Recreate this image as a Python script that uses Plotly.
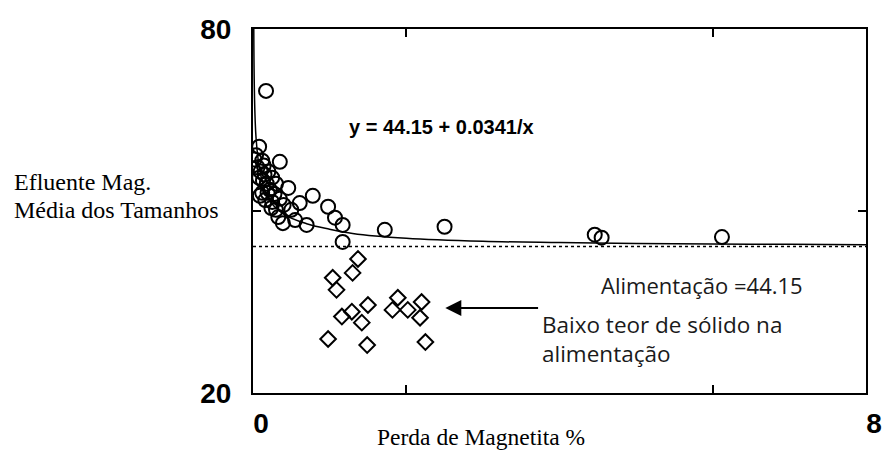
import plotly.graph_objects as go

# Data
circle_x = [0.17, 0.08, 0.04, 0.02, 0.12, 0.35, 0.06, 0.10, 0.15, 0.20, 0.08, 0.13, 0.18, 0.25,
            0.30, 0.46, 0.22, 0.12, 0.28, 0.78, 0.16, 0.35, 0.61, 0.25, 0.40, 0.98, 0.30, 0.50,
            1.07, 0.39, 0.55, 0.70, 1.17, 1.17, 1.72, 2.50, 4.46, 4.55, 6.12,
            0.14, 0.19, 0.24, 0.09, 0.33]
circle_y = [69.8, 60.6, 59.2, 58.5, 58.3, 58.1, 57.2, 56.5, 56.0, 56.5, 55.5, 55.0, 54.5, 55.5,
            54.5, 53.8, 53.5, 53.0, 52.8, 52.5, 51.8, 52.0, 51.3, 51.5, 51.0, 50.7, 50.2, 50.2,
            48.9, 48.0, 48.5, 47.7, 47.7, 44.9, 46.9, 47.4, 46.1, 45.6, 45.7,
            57.5, 53.0, 50.5, 52.5, 49.0]

diamond_x = [1.37, 1.30, 1.04, 1.09, 1.16, 1.29, 1.50, 1.42, 0.98, 1.49, 1.89, 1.82, 2.02, 2.20, 2.18, 2.25]
diamond_y = [42.1, 39.8, 39.0, 37.0, 32.6, 33.4, 34.5, 31.6, 28.9, 27.9, 35.7, 33.7, 33.7, 35.0, 32.4, 28.4]

curve_x = [0.01, 0.04, 0.10, 0.20, 0.40, 0.70, 1.0, 1.3, 2.0, 3.0, 4.0, 5.0, 6.0, 7.0, 8.0]
curve_y = [80.0, 62.0, 56.0, 52.0, 49.5, 47.9, 47.0, 46.3, 45.5, 45.0, 44.8, 44.65, 44.55, 44.5, 44.45]

feed_x = [0, 8]
feed_y = [44.15, 44.15]

x_tickvals = [0, 2, 6, 8]
x_ticktext = ["0", "", "", "8"]
y_tickvals = [20, 50, 80]
y_ticktext = ["20", "", "80"]

equation_text = "y = 44.15 + 0.0341/x"
feed_text = "Alimentação =44.15"
low_solids_text = ["Baixo teor de sólido na", "alimentação"]
y_title = ["Efluente Mag.", "Média dos Tamanhos"]
x_title = "Perda de Magnetita %"

fig = go.Figure()
fig.add_trace(go.Scatter(x=feed_x, y=feed_y, mode="lines",
                         line=dict(color="black", width=1.5, dash="dot"), showlegend=False))
fig.add_trace(go.Scatter(x=curve_x, y=curve_y, mode="lines", line_shape="spline",
                         line=dict(color="black", width=1.5), showlegend=False))
fig.add_trace(go.Scatter(x=circle_x, y=circle_y, mode="markers",
                         marker=dict(symbol="circle-open", size=14, color="black", line=dict(width=2)),
                         showlegend=False))
fig.add_trace(go.Scatter(x=diamond_x, y=diamond_y, mode="markers",
                         marker=dict(symbol="diamond-open", size=12, color="black", line=dict(width=2)),
                         showlegend=False))

fig.add_annotation(x=2.46, y=63.9, text=equation_text, showarrow=False,
                   font=dict(family="Liberation Sans, Arial", size=20, color="black", weight="bold"))
fig.add_annotation(x=4.52, y=37.8, text=feed_text, showarrow=False, xanchor="left",
                   font=dict(family="Open Sans", size=22, color="#1a1a1a"))
fig.add_annotation(x=3.75, y=28.9, text="<br>".join(low_solids_text), showarrow=False,
                   xanchor="left", align="left",
                   font=dict(family="Open Sans", size=22.5, color="#1a1a1a"))
fig.add_annotation(x=2.51, y=34.0, ax=3.74, ay=34.0, axref="x", ayref="y", text="",
                   showarrow=True, arrowhead=2, arrowsize=1.6, arrowwidth=2, arrowcolor="black")

fig.add_annotation(xref="paper", yref="paper", x=-0.3925, y=0.58, text=y_title[0], showarrow=False,
                   xanchor="left", yanchor="middle",
                   font=dict(family="Liberation Serif, Times New Roman", size=24, color="black"))
fig.add_annotation(xref="paper", yref="paper", x=-0.3925, y=0.503, text=y_title[1], showarrow=False,
                   xanchor="left", yanchor="middle",
                   font=dict(family="Liberation Serif, Times New Roman", size=24, color="black"))
fig.add_annotation(xref="paper", yref="paper", x=0.1987, y=-0.121, text=x_title, showarrow=False,
                   xanchor="left", yanchor="middle",
                   font=dict(family="Liberation Serif, Times New Roman", size=23.5, color="black"))

fig.update_xaxes(range=[0, 8], tickvals=x_tickvals, ticktext=x_ticktext, ticks="inside", ticklen=8,
                 tickwidth=2, tickcolor="black", showline=True, linecolor="black", linewidth=2,
                 mirror="ticks", showgrid=False, zeroline=False, ticklabelstandoff=4, ticklabelshift=8,
                 automargin=False,
                 tickfont=dict(family="Liberation Sans, Arial", size=28, color="black", weight="bold"))
fig.update_yaxes(range=[20, 80], tickvals=y_tickvals, ticktext=y_ticktext, ticks="inside", ticklen=8,
                 tickwidth=2, tickcolor="black", showline=True, linecolor="black", linewidth=2,
                 mirror="ticks", showgrid=False, zeroline=False, ticklabelstandoff=14,
                 automargin=False,
                 tickfont=dict(family="Liberation Sans, Arial", size=28, color="black", weight="bold"))

fig.update_layout(width=883, height=452, margin=dict(l=253, r=17, t=29, b=59),
                  plot_bgcolor="white", paper_bgcolor="white")
fig.write_html("out.html", config={"displayModeBar": False},
               post_script="document.body.style.margin='0';document.body.style.overflow='hidden';")
